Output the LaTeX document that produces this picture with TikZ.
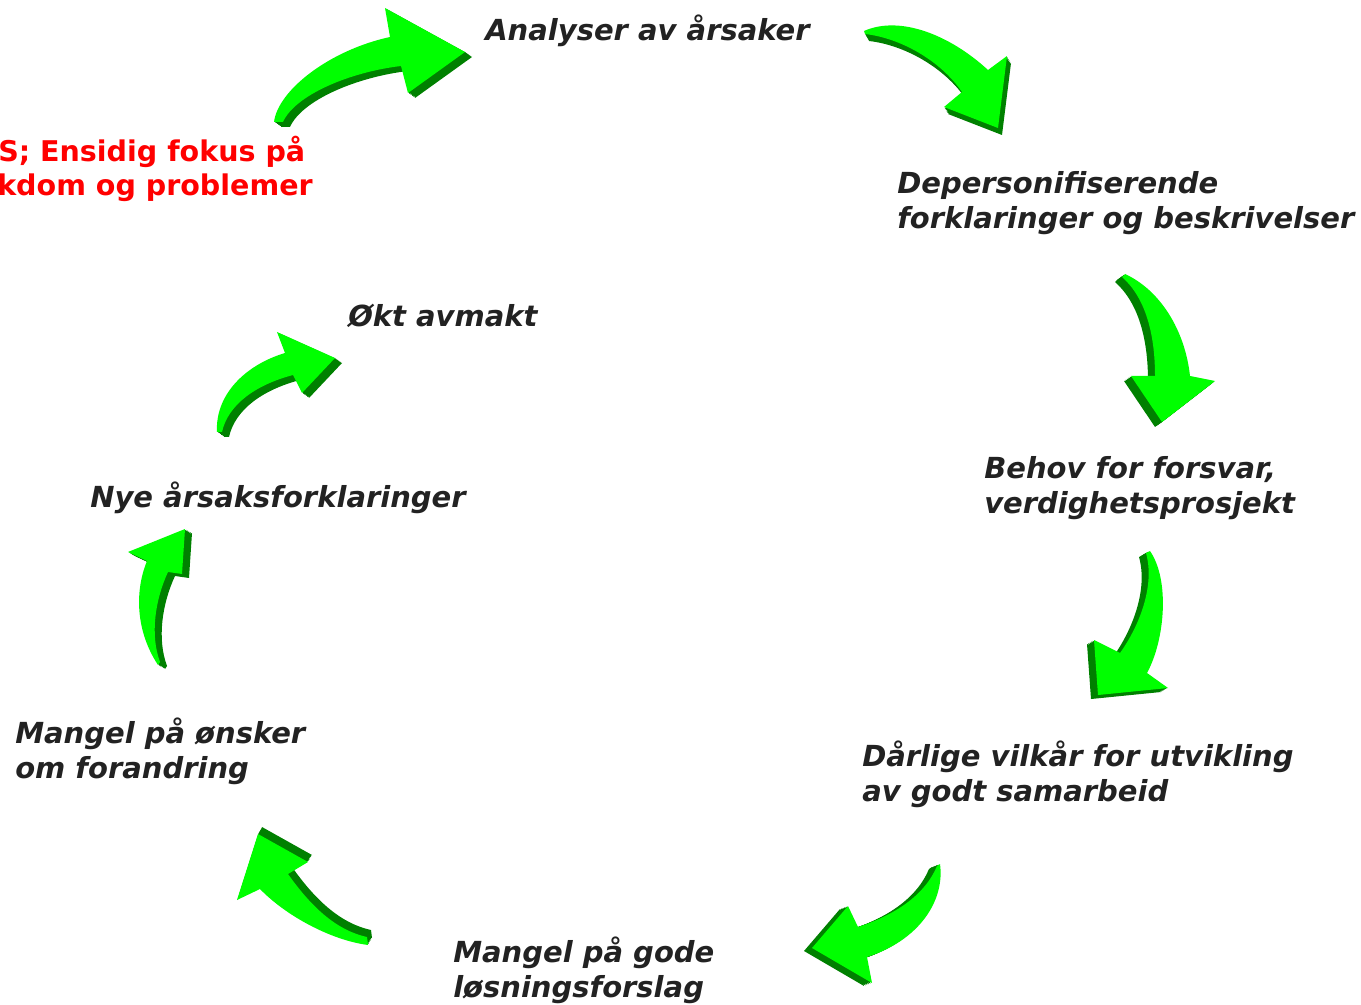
\documentclass[tikz,border=0pt]{standalone}
\usepackage{fontspec}
\setmainfont{DejaVu Sans}
\definecolor{agreen}{RGB}{0,255,0}
\definecolor{adark}{RGB}{0,128,0}
\definecolor{txt}{RGB}{34,34,34}
\newcommand\greenarrow[3]{%
  \foreach \t in {0.2,0.4,0.6,0.8,1}{\fill[darkpart, shift={({\t*#1},{\t*#2})}] #3;}
  \fill[facepart] #3;}
\begin{document}
\begin{tikzpicture}[x=0.75pt,y=-0.75pt,
  lbl/.style={anchor=base west, inner sep=0pt, align=left, text=txt,
    font=\fontsize{21.75}{26.25}\selectfont\bfseries\itshape},
  redlbl/.style={lbl, text=red, font=\fontsize{21.4}{26.25}\selectfont\bfseries},
  facepart/.style={fill=agreen},
  darkpart/.style={fill=adark}]
\useasboundingbox (0,0) rectangle (1361,1005);
\clip (0,0) rectangle (1361,1005);

% labels (base anchor = baseline of the last line)
\node[lbl] (analyse) at (485,41) {Analyser av årsaker};
\node[lbl] (deperson) at (897,229) {Depersonifiserende\\forklaringer og beskrivelser};
\node[lbl] (behov) at (984,513) {Behov for forsvar,\\verdighetsprosjekt};
\node[lbl] (vilkar) at (862,801) {Dårlige vilkår for utvikling\\av godt samarbeid};
\node[lbl] (losning) at (453,997) {Mangel på gode\\løsningsforslag};
\node[lbl] (onsker) at (15,778) {Mangel på ønsker\\om forandring};
\node[lbl] (nye) at (90,508) {Nye årsaksforklaringer};
\node[lbl] (avmakt) at (348,327) {Økt avmakt};
\node[redlbl] (fokus) at (-2,162) {S; Ensidig fokus på};
\node[redlbl] (sykdom) at (-3,196) {kdom og problemer};

% arrows
\greenarrow{7}{5}{(274,122) .. controls (278,90) and (330,50) .. (390,37) -- (385,8) -- (465,52) -- (408,93) -- (401,66) .. controls (350,72) and (295,95) .. (283,122) -- cycle}
\greenarrow{4}{7}{(864,31) .. controls (900,15) and (950,35) .. (988,70) -- (1007,56) -- (998,128) -- (944,107) -- (962,92) .. controls (940,60) and (900,38) .. (865,34) -- cycle}
\greenarrow{-7}{5}{(1125,274) .. controls (1160,290) and (1185,330) .. (1190,376) -- (1215,381) -- (1162,422) -- (1131,376) -- (1155,376) .. controls (1155,340) and (1148,300) .. (1122,277) -- cycle}
\greenarrow{-7}{4}{(1150,551) .. controls (1170,580) and (1165,640) .. (1147,673) -- (1168,688) -- (1098,695) -- (1094,640) -- (1120,653) .. controls (1140,625) and (1155,585) .. (1146,553) -- cycle}
\greenarrow{-8}{3}{(940,864) .. controls (945,900) and (920,940) .. (867,957) -- (872,983) -- (812,948) -- (848,906) -- (858,927) .. controls (895,915) and (925,895) .. (937,866) -- cycle}
\greenarrow{4}{-7}{(368,945) .. controls (330,940) and (285,915) .. (260,889) -- (237,900) -- (258,834) -- (308,862) -- (288,874) .. controls (310,905) and (335,930) .. (367,937) -- cycle}
\greenarrow{7}{4}{(158,665) .. controls (135,630) and (135,590) .. (147,561) -- (128,552) -- (185,529) -- (182,574) -- (168,572) .. controls (155,600) and (150,635) .. (160,662) -- cycle}
\greenarrow{7}{5}{(217,432) .. controls (215,395) and (245,365) .. (285,353) -- (277,332) -- (335,358) -- (302,393) -- (293,375) .. controls (255,385) and (228,405) .. (222,432) -- cycle}
\end{tikzpicture}
\end{document}
